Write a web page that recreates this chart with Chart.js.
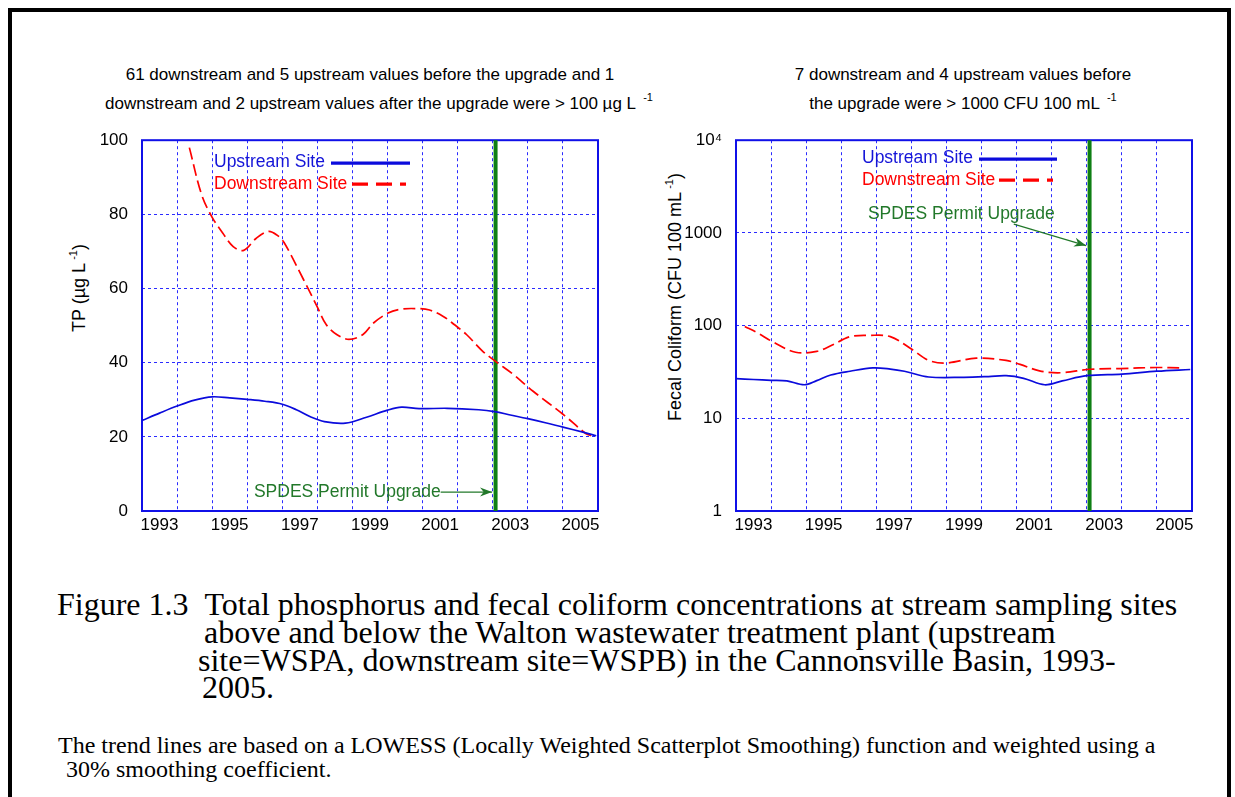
<!DOCTYPE html>
<html><head><meta charset="utf-8">
<script src="https://cdn.jsdelivr.net/npm/chart.js@4.4.1/dist/chart.umd.min.js"></script>
<style>
html,body{margin:0;padding:0;background:#fff;}
body{width:1235px;height:797px;position:relative;overflow:hidden;font-family:"Liberation Sans",Arial,sans-serif;}
#frame{position:absolute;left:8px;top:8px;width:1215px;height:900px;border:4px solid #000;}
.t{position:absolute;white-space:nowrap;color:#000;font-size:17px;line-height:18px;transform:translateX(-50%);}
sup{font-size:11px;vertical-align:0;position:relative;top:-8px;margin-left:3px;}
.ylab{position:absolute;white-space:nowrap;font-size:18px;line-height:20px;transform:translate(-50%,-50%) rotate(-90deg);}
.cap{position:absolute;white-space:nowrap;font-family:"Liberation Serif","Times New Roman",serif;font-size:32px;line-height:28px;color:#000;}
.note{position:absolute;white-space:nowrap;font-family:"Liberation Serif","Times New Roman",serif;font-size:24px;line-height:24px;color:#000;}
canvas{position:absolute;}
</style></head>
<body>
<div id="frame"></div>

<div class="t" style="left:370px;top:66px;">61 downstream and 5 upstream values before the upgrade and 1</div>
<div class="t" style="left:379px;top:95px;">downstream and 2 upstream values after the upgrade were &gt; 100 µg L <sup>-1</sup></div>
<div class="t" style="left:963px;top:66px;">7 downstream and 4 upstream values before</div>
<div class="t" style="left:963px;top:95px;">the upgrade were &gt; 1000 CFU 100 mL <sup>-1</sup></div>

<div class="ylab" style="left:80px;top:288px;">TP (µg L<sup>-1</sup>)</div>
<div class="ylab" style="left:676px;top:297px;">Fecal Coliform (CFU 100 mL<sup>-1</sup>)</div>

<canvas id="tp" width="530" height="430" style="left:80px;top:116px;"></canvas>
<canvas id="fc" width="530" height="430" style="left:674px;top:116px;"></canvas>

<div class="cap" style="left:57px;top:590px;">Figure 1.3&nbsp;&nbsp;Total phosphorus and fecal coliform concentrations at stream sampling sites</div>
<div class="cap" style="left:204px;top:618px;">above and below the Walton wastewater treatment plant (upstream</div>
<div class="cap" style="left:198px;top:646px;">site=WSPA, downstream site=WSPB) in the Cannonsville Basin, 1993-</div>
<div class="cap" style="left:202px;top:673px;">2005.</div>
<div class="note" style="left:58px;top:733px;">The trend lines are based on a LOWESS (Locally Weighted Scatterplot Smoothing) function and weighted using a</div>
<div class="note" style="left:66px;top:757px;">30% smoothing coefficient.</div>

<script>
// ---------- data ----------
const xTickYears = [1993, 1995, 1997, 1999, 2001, 2003, 2005];
const tpTicks = [0, 20, 40, 60, 80, 100];
const fcTicks = [1, 10, 100, 1000, 10000];
const upgradeYear = 2003.08;

const tpUpYears  = [1993.0,1993.5,1994.0,1994.5,1995.0,1995.5,1996.0,1996.5,1997.0,1997.4,1997.8,1998.2,1998.8,1999.4,2000.0,2000.4,2000.9,2001.7,2002.6,2003.05,2003.5,2004.0,2004.5,2005.0,2005.6,2005.95];
const tpUpValues = [24.4,26.4,28.3,29.9,30.8,30.5,30.1,29.6,28.8,27.3,25.4,24.1,23.7,25.3,27.2,28.0,27.6,27.7,27.3,26.8,25.9,24.9,23.8,22.6,21.2,20.3];

const tpDownYears  = [1994.35,1994.7,1995.0,1995.3,1995.6,1995.9,1996.25,1996.6,1996.85,1997.05,1997.6,1998.0,1998.25,1998.55,1998.9,1999.3,1999.6,2000.0,2000.35,2000.8,2001.2,2001.6,2001.9,2002.25,2002.7,2003.1,2003.55,2004.15,2005.0,2005.65,2005.8];
const tpDownValues = [98.0,85.3,79.2,75.0,71.3,70.3,73.5,75.4,74.4,72.4,62.5,55.0,50.3,47.6,46.3,47.6,50.7,53.3,54.4,54.6,54.2,52.4,50.3,47.6,43.2,40.2,37.1,32.3,26.1,20.9,20.3];

const fcUpYears  = [1993.0,1993.5,1994.0,1994.45,1994.95,1995.3,1995.7,1996.25,1996.9,1997.4,1997.8,1998.5,1999.5,2000.2,2000.7,2001.2,2001.8,2002.3,2003.0,2004.0,2005.0,2005.95];
const fcUpValues = [26.8,26.2,25.7,25.3,23.0,25.5,29.3,32.2,35.0,34.0,32.2,27.9,27.7,28.2,28.8,27.0,23.0,25.3,28.8,30.0,32.2,33.6];

const fcDownYears  = [1993.25,1993.6,1994.05,1994.7,1995.3,1995.7,1996.25,1996.8,1997.4,1998.0,1998.5,1999.0,1999.85,2000.7,2001.1,2001.65,2002.25,2003.1,2003.95,2005.0,2005.7];
const fcDownValues = [98,84,66.8,51.6,52.8,60.5,76,78.5,76,55.9,42.1,39.5,44.6,42.1,38.2,32.5,31,33.8,34.4,35.3,35];

// ---------- style ----------
const FONT = '"Liberation Sans", Arial, sans-serif';
const BLUE = '#0b0bdc';
const RED = '#ff0000';
const GREEN = '#0e7f14';
const GREEN_TXT = '#22782a';
const GRID = '#2b2bff';

function pts(xs, ys) { return xs.map((x, i) => ({ x: x, y: ys[i] })); }

const framePlugin = {
  id: 'frame',
  beforeDatasetsDraw(chart) {
    const { ctx, chartArea: a } = chart;
    ctx.save();
    ctx.strokeStyle = '#1010e8';
    ctx.lineWidth = 2;
    ctx.strokeRect(a.left, a.top, a.right - a.left, a.bottom - a.top);
    ctx.restore();
  }
};

const keyPlugin = {
  id: 'siteKey',
  afterDatasetsDraw(chart, args, o) {
    const { ctx, chartArea: a } = chart;
    ctx.save();
    ctx.font = '17.5px ' + FONT;
    ctx.textBaseline = 'middle';
    ctx.textAlign = 'left';
    ctx.fillStyle = '#1414d8';
    ctx.fillText('Upstream Site', a.left + o.tx, a.top + o.y1);
    ctx.strokeStyle = BLUE; ctx.lineWidth = 3.2;
    ctx.beginPath(); ctx.moveTo(a.left + o.l1[0], a.top + o.y1 + 1); ctx.lineTo(a.left + o.l1[1], a.top + o.y1 + 1); ctx.stroke();
    ctx.fillStyle = RED;
    ctx.fillText('Downstream Site', a.left + o.tx, a.top + o.y2);
    ctx.strokeStyle = RED; ctx.setLineDash([16, 8]);
    ctx.beginPath(); ctx.moveTo(a.left + o.l2[0], a.top + o.y2); ctx.lineTo(a.left + o.l2[1], a.top + o.y2); ctx.stroke();
    ctx.restore();
  }
};

const notePlugin = {
  id: 'upgradeNote',
  afterDatasetsDraw(chart, args, o) {
    const { ctx, scales } = chart;
    const tx = scales.x.getPixelForValue(o.text[0]);
    const ty = scales.y.getPixelForValue(o.text[1]);
    ctx.save();
    ctx.font = '17.5px ' + FONT;
    ctx.textBaseline = 'middle';
    ctx.fillStyle = GREEN_TXT;
    ctx.fillText('SPDES Permit Upgrade', tx, ty);
    const w = ctx.measureText('SPDES Permit Upgrade').width;
    const x0 = o.from ? scales.x.getPixelForValue(o.from[0]) : tx + w;
    const y0 = o.from ? scales.y.getPixelForValue(o.from[1]) : ty;
    const x1 = scales.x.getPixelForValue(o.to[0]);
    const y1 = scales.y.getPixelForValue(o.to[1]);
    ctx.strokeStyle = GREEN_TXT; ctx.fillStyle = GREEN_TXT; ctx.lineWidth = 1.2;
    ctx.beginPath(); ctx.moveTo(x0, y0); ctx.lineTo(x1, y1); ctx.stroke();
    const ang = Math.atan2(y1 - y0, x1 - x0);
    const L = 12, H = 4.5;
    ctx.beginPath();
    ctx.moveTo(x1, y1);
    ctx.lineTo(x1 - L * Math.cos(ang) + H * Math.sin(ang), y1 - L * Math.sin(ang) - H * Math.cos(ang));
    ctx.lineTo(x1 - 0.7 * L * Math.cos(ang), y1 - 0.7 * L * Math.sin(ang));
    ctx.lineTo(x1 - L * Math.cos(ang) - H * Math.sin(ang), y1 - L * Math.sin(ang) + H * Math.cos(ang));
    ctx.closePath(); ctx.fill();
    ctx.restore();
  }
};

function makeChart(id, cfg) {
  const tickFont = { size: 17, family: FONT };
  return new Chart(document.getElementById(id), {
    type: 'line',
    data: {
      datasets: [
        { label: 'Upstream Site', data: cfg.up, borderColor: BLUE, borderWidth: 1.7, pointRadius: 0, tension: 0.35, fill: false },
        { label: 'Downstream Site', data: cfg.down, borderColor: RED, borderWidth: 1.7, borderDash: [12, 5], pointRadius: 0, tension: 0.35, fill: false },
        { label: 'SPDES Permit Upgrade', data: [{ x: upgradeYear, y: cfg.ymin }, { x: upgradeYear, y: cfg.ymax }], borderColor: GREEN, borderWidth: 4, pointRadius: 0, fill: false, clip: 4 }
      ]
    },
    options: {
      responsive: false, animation: false, events: [],
      layout: { padding: { top: 15, right: 12, left: 0, bottom: 0 } },
      plugins: {
        legend: { display: false }, tooltip: { enabled: false }, title: { display: false },
        siteKey: cfg.key, upgradeNote: cfg.note
      },
      scales: {
        x: {
          type: 'linear', min: 1993, max: 2006,
          afterBuildTicks: s => { const t = []; for (let y = 1993; y <= 2006; y++) t.push({ value: y }); s.ticks = t; },
          ticks: { autoSkip: false, maxRotation: 0, padding: 4, labelOffset: 17.5, color: '#000', font: tickFont,
                   callback: v => xTickYears.includes(v) ? String(v) : '' },
          grid: { color: GRID, lineWidth: 1, drawTicks: false },
          border: { display: false, dash: [3, 3] },
          afterFit: s => { s.height = 35; }
        },
        y: {
          type: cfg.log ? 'logarithmic' : 'linear', min: cfg.ymin, max: cfg.ymax,
          afterBuildTicks: s => { s.ticks = cfg.ticks.map(v => ({ value: v })); },
          ticks: { autoSkip: false, padding: 14, color: '#000', font: tickFont, callback: cfg.tickLabel },
          grid: { color: GRID, lineWidth: 1, drawTicks: false },
          border: { display: false, dash: [3, 3] },
          afterFit: s => { s.width = 62; }
        }
      }
    },
    plugins: [framePlugin, keyPlugin, notePlugin]
  });
}

makeChart('tp', {
  up: pts(tpUpYears, tpUpValues), down: pts(tpDownYears, tpDownValues),
  ymin: 0, ymax: 100, log: false, ticks: tpTicks, tickLabel: v => String(v),
  key: { tx: 72, y1: 22, y2: 44, l1: [189, 268], l2: [210, 264] },
  note: { text: [1996.19, 5.1], to: [2002.98, 5.1] }
});

makeChart('fc', {
  up: pts(fcUpYears, fcUpValues), down: pts(fcDownYears, fcDownValues),
  ymin: 1, ymax: 10000, log: true, ticks: fcTicks, tickLabel: v => (v === 10000 ? '10\u2074' : String(v)),
  key: { tx: 126, y1: 18, y2: 40, l1: [243, 321], l2: [263, 317] },
  note: { text: [1996.76, 1585], from: [2000.92, 1244], to: [2002.98, 730] }
});
</script>
</body></html>
